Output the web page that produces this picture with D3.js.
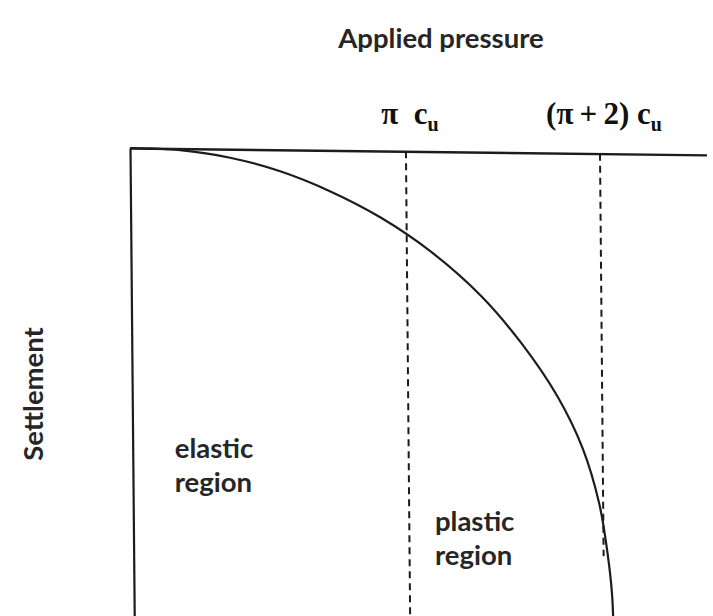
<!DOCTYPE html>
<html>
<head>
<meta charset="utf-8">
<script src="https://cdn.jsdelivr.net/npm/d3@7"></script>
<style>
  body { margin: 0; background: #fff; }
  .lbl { font-family: Lato, "Open Sans", sans-serif; font-weight: bold; fill: #262626; }
  .math { font-family: "Liberation Serif", "DejaVu Serif", serif; font-weight: bold; fill: #111; white-space: pre; }
</style>
</head>
<body>
<svg id="chart" width="713" height="616"></svg>
<script>
// Load–settlement curve of a strip footing on clay (pressure in units of c_u)
const pressure   = [0, 0.647, 1.229, 1.788, 2.333, 2.868, 3.394, 3.915, 4.327, 4.685, 4.939, 5.102, 5.182, 5.223, 5.233];
const settlement = [0, 0.34, 1.82, 4.59, 8.76, 14.21, 21.37, 30.77, 40.81, 51.92, 63.03, 74.79, 85.47, 94.02, 100];

// Characteristic pressures: onset of yield and ultimate bearing capacity
const markerValues = [Math.PI, Math.PI + 2];
const markerText   = ["π\u00a0\u00a0c", "(π\u2009+\u20092)\u00a0c"];
const markerSub    = ["u", "u"];
const markerEnd    = [100, 86];   // settlement at which each guide line stops

const regionNames  = [["elastic", "region"], ["plastic", "region"]];
const regionAt     = [[0.55, 66.2], [3.41, 81.1]];   // [pressure, settlement] of each caption

const pressureMax = 6.21;
const settlementMax = 100;

const svg = d3.select("#chart");
const origin = { x: 130, y: 148 };
const shear = { a: 0.009, b: 0.012 };

const x = d3.scalePow().exponent(1.081).domain([0, Math.PI + 2]).range([0, 470]);
const y = d3.scaleLinear().domain([0, settlementMax]).range([0, 468]);

// plot area is drawn slightly sheared, like a hand-placed sketch
const g = svg.append("g")
  .attr("transform", `matrix(1, ${shear.b}, ${shear.a}, 1, ${origin.x}, ${origin.y})`);

const toScreen = (p, s) => {
  const u = x(p), v = y(s);
  return [origin.x + u + shear.a * v, origin.y + shear.b * u + v];
};

// axes (no ticks)
const xFull = x.copy().domain([0, pressureMax]).range([0, x(pressureMax)]);
g.append("g").call(d3.axisTop(xFull).tickValues([]).tickSizeOuter(0))
  .select(".domain").attr("stroke", "#1c1c1c").attr("stroke-width", 2.4);
g.append("g").call(d3.axisLeft(y).tickValues([]).tickSizeOuter(0))
  .select(".domain").attr("stroke", "#1c1c1c").attr("stroke-width", 2.2);

// dashed guide lines
g.selectAll("line.guide")
  .data(markerValues)
  .join("line")
  .attr("class", "guide")
  .attr("x1", d => x(d)).attr("x2", d => x(d))
  .attr("y1", 0).attr("y2", (d, i) => y(markerEnd[i]))
  .attr("stroke", "#1a1a1a")
  .attr("stroke-width", 2)
  .attr("stroke-dasharray", "7,5");

// load-settlement curve
const line = d3.line()
  .x(d => x(d[0]))
  .y(d => y(d[1]))
  .curve(d3.curveCatmullRom.alpha(0.5));

g.append("path")
  .datum(pressure.map((p, i) => [p, settlement[i]]))
  .attr("d", line)
  .attr("fill", "none")
  .attr("stroke", "#1c1c1c")
  .attr("stroke-width", 2.2);

// marker labels above the guide lines
markerValues.forEach((m, i) => {
  const [sx] = toScreen(m, 0);
  const t = svg.append("text")
    .attr("class", "math")
    .attr("x", sx + 4)
    .attr("y", 124)
    .attr("text-anchor", "middle")
    .style("font-size", "31px");
  t.append("tspan").text(markerText[i]);
  t.append("tspan").attr("dy", 7).style("font-size", "20px").text(markerSub[i]);
});

// axis titles
svg.append("text")
  .attr("class", "lbl")
  .attr("x", 441).attr("y", 48)
  .attr("text-anchor", "middle")
  .style("font-size", "27.5px")
  .text("Applied pressure");

svg.append("text")
  .attr("class", "lbl")
  .attr("transform", "translate(43,394) rotate(-90)")
  .attr("text-anchor", "middle")
  .style("font-size", "27.5px")
  .text("Settlement");

// region captions
regionNames.forEach((lines, i) => {
  const [sx, sy] = toScreen(regionAt[i][0], regionAt[i][1]);
  const t = svg.append("text")
    .attr("class", "lbl")
    .attr("x", sx).attr("y", sy)
    .style("font-size", "27.5px");
  lines.forEach((w, k) => {
    t.append("tspan").attr("x", sx).attr("dy", k === 0 ? 0 : 34).text(w);
  });
});
</script>
</body>
</html>
